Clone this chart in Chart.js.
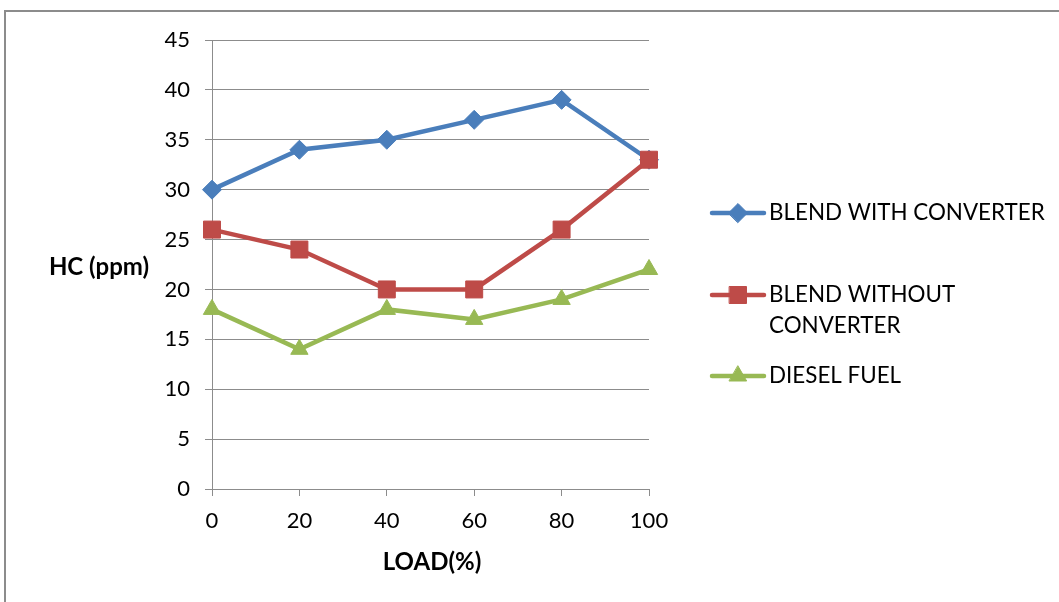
<!DOCTYPE html>
<html><head><meta charset="utf-8">
<script src="https://cdn.jsdelivr.net/npm/chart.js@4/dist/chart.umd.min.js"></script>
<style>html,body{margin:0;padding:0;background:#fff;}#wrap{width:1059px;height:602px;position:relative;}</style>
</head><body><div id="wrap"><canvas id="c" width="1059" height="602"></canvas></div>
<script>
const loads = [0, 20, 40, 60, 80, 100];
const blendWithConverter = [30, 34, 35, 37, 39, 33];
const blendWithoutConverter = [26, 24, 20, 20, 26, 33];
const dieselFuel = [18, 14, 18, 17, 19, 22];
const seriesNames = ['BLEND WITH CONVERTER', 'BLEND WITHOUT CONVERTER', 'DIESEL FUEL'];
const yTitle = 'HC (ppm)';
const xTitle = 'LOAD(%)';

const FONT = 'Lato, "Liberation Sans", sans-serif';
const colors = ['#4a7ebb', '#be4b48', '#98b954'];
const styles = [
  {pointStyle: 'rectRot', radius: 9.5},
  {pointStyle: 'rect', radius: 12},
  {pointStyle: 'triangle', radius: 10}
];
const seriesData = [blendWithConverter, blendWithoutConverter, dieselFuel];

const datasets = seriesData.map((arr, i) => ({
  label: seriesNames[i],
  data: arr.map((v, j) => ({x: loads[j], y: v})),
  borderColor: colors[i],
  backgroundColor: colors[i],
  borderWidth: 4.5,
  pointStyle: styles[i].pointStyle,
  pointRadius: styles[i].radius,
  pointHoverRadius: styles[i].radius,
  pointBorderWidth: 1,
  tension: 0,
  clip: false,
  order: 3 - i
}));

const legendLayout = [
  {y: 213, lines: ['BLEND WITH CONVERTER']},
  {y: 295, lines: ['BLEND WITHOUT', 'CONVERTER']},
  {y: 376, lines: ['DIESEL FUEL']}
];

const decor = {
  id: 'decor',
  afterDraw(chart) {
    const ctx = chart.ctx;
    ctx.save();
    ctx.strokeStyle = '#8c8c8c';
    ctx.lineWidth = 2;
    ctx.strokeRect(5, 11, 1100, 700);
    ctx.fillStyle = '#000';
    ctx.textBaseline = 'middle';
    ctx.textAlign = 'center';
    ctx.font = 'bold 24px ' + FONT;
    ctx.fillText(yTitle, 99, 267);
    ctx.fillText(xTitle, 432, 562);
    ctx.textAlign = 'left';
    ctx.font = '22.4px ' + FONT;
    legendLayout.forEach((it, i) => {
      ctx.strokeStyle = colors[i];
      ctx.fillStyle = colors[i];
      ctx.lineWidth = 4.5;
      ctx.lineCap = 'round';
      ctx.beginPath();
      ctx.moveTo(712, it.y);
      ctx.lineTo(764, it.y);
      ctx.stroke();
      ctx.lineWidth = 1;
      Chart.helpers.drawPoint(ctx, {pointStyle: styles[i].pointStyle, radius: styles[i].radius, rotation: 0, borderWidth: 1}, 738, it.y);
      ctx.fillStyle = '#000';
      it.lines.forEach((t, k) => ctx.fillText(t, 769, it.y + k * 31));
    });
    ctx.restore();
  }
};

new Chart(document.getElementById('c'), {
  type: 'line',
  data: {datasets},
  options: {
    responsive: false,
    animation: false,
    devicePixelRatio: 1,
    layout: {padding: {left: 0, top: 40, right: 410, bottom: 0}},
    plugins: {legend: {display: false}, tooltip: {enabled: false}},
    scales: {
      x: {
        type: 'linear', min: 0, max: 100,
        ticks: {stepSize: 20, color: '#000', font: {family: FONT, size: 22}, padding: 12},
        grid: {drawOnChartArea: false, drawTicks: true, tickLength: 7, color: '#8c8c8c', lineWidth: 1},
        border: {color: '#8c8c8c', width: 1},
        afterFit(s) { s.height = 113; }
      },
      y: {
        min: 0, max: 45,
        ticks: {stepSize: 5, color: '#000', font: {family: FONT, size: 22}, padding: 15},
        grid: {color: '#8c8c8c', lineWidth: 1, tickLength: 7},
        border: {color: '#8c8c8c', width: 1},
        afterFit(s) { s.width = 212; }
      }
    }
  },
  plugins: [decor]
});
</script></body></html>
